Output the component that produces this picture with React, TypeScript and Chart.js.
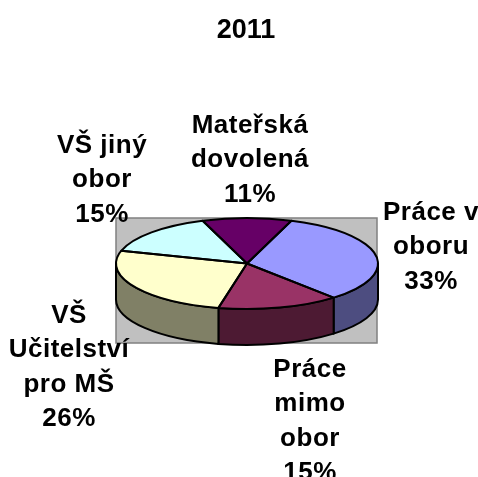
import React, { useEffect, useRef } from "react";
import { Chart, registerables } from "chart.js";

Chart.register(...registerables);

const chartTitle = "2011";
const categories = ["Mateřská dovolená", "Práce v oboru", "Práce mimo obor", "VŠ Učitelství pro MŠ", "VŠ jiný obor"];
const shares = [11, 33, 15, 26, 15];
const topColors = ["#660066", "#9999FF", "#993366", "#FFFFCC", "#CCFFFF"];
const sideColors = ["#330033", "#4D4D80", "#4D1A33", "#808066", "#668080"];
const labelLines = [
  ["Mateřská", "dovolená"],
  ["Práce v", "oboru"],
  ["Práce", "mimo", "obor"],
  ["VŠ", "Učitelství", "pro MŠ"],
  ["VŠ jiný", "obor"],
];
const labelAnchors = [
  { x: 250, y: 133 },
  { x: 431, y: 220 },
  { x: 310, y: 377 },
  { x: 69, y: 323 },
  { x: 102, y: 153 },
];

const TILT = 45.5 / 131;
const DEPTH = 36;
const LINE = 34.3;
const FONT = 'bold 26px "Liberation Sans", Arial, sans-serif';
const TITLE_FONT = 'bold 27px "Liberation Sans", Arial, sans-serif';

const pie3d = {
  id: "pie3d",
  beforeDatasetsDraw(chart: any) {
    const { ctx } = chart;
    const arcs = chart.getDatasetMeta(0).data;
    const { x: cx, y: cy, outerRadius: r } = arcs[0];
    const ry = r * TILT;
    // plot area
    ctx.save();
    ctx.fillStyle = "#C0C0C0";
    ctx.strokeStyle = "#808080";
    ctx.lineWidth = 1.5;
    ctx.beginPath();
    ctx.rect(cx - r, cy - ry, 2 * r - 1, 2 * ry + DEPTH - 2);
    ctx.fill();
    ctx.stroke();
    // extruded front walls
    ctx.lineWidth = 2;
    ctx.strokeStyle = "#000";
    ctx.lineJoin = "round";
    arcs.forEach((a: any, i: number) => {
      for (let k = -1; k <= 1; k++) {
        const s = Math.max(a.startAngle + k * 2 * Math.PI, 0);
        const e = Math.min(a.endAngle + k * 2 * Math.PI, Math.PI);
        if (e <= s) continue;
        ctx.beginPath();
        ctx.ellipse(cx, cy, r, ry, 0, s, e);
        ctx.lineTo(cx + r * Math.cos(e), cy + ry * Math.sin(e) + DEPTH);
        ctx.ellipse(cx, cy + DEPTH, r, ry, 0, e, s, true);
        ctx.closePath();
        ctx.fillStyle = sideColors[i];
        ctx.fill();
        ctx.stroke();
      }
    });
    ctx.restore();
  },
  beforeDatasetDraw(chart: any) {
    const { ctx } = chart;
    const { x: cx, y: cy } = chart.getDatasetMeta(0).data[0];
    ctx.save();
    ctx.translate(cx, cy);
    ctx.scale(1, TILT);
    ctx.translate(-cx, -cy);
  },
  afterDatasetDraw(chart: any) {
    chart.ctx.restore();
  },
  afterDatasetsDraw(chart: any) {
    const { ctx } = chart;
    const arcs = chart.getDatasetMeta(0).data;
    ctx.save();
    ctx.lineWidth = 2;
    ctx.strokeStyle = "#000";
    ctx.lineJoin = "round";
    arcs.forEach((a: any) => {
      const ry = a.outerRadius * TILT;
      ctx.beginPath();
      ctx.moveTo(a.x, a.y);
      ctx.ellipse(a.x, a.y, a.outerRadius, ry, 0, a.startAngle, a.endAngle);
      ctx.closePath();
      ctx.stroke();
    });
    ctx.restore();
  },
  afterDraw(chart: any) {
    const { ctx } = chart;
    ctx.save();
    ctx.fillStyle = "#000";
    ctx.textAlign = "center";
    ctx.textBaseline = "alphabetic";
    ctx.font = TITLE_FONT;
    ctx.fillText(chartTitle, 246, 38);
    ctx.font = FONT;
    ctx.letterSpacing = "0.5px";
    shares.forEach((v, i) => {
      const lines = [...labelLines[i], `${v}%`];
      lines.forEach((t, j) => {
        ctx.fillText(t, labelAnchors[i].x, labelAnchors[i].y + j * LINE);
      });
    });
    ctx.restore();
  },
};

export default function App() {
  const ref = useRef<HTMLCanvasElement>(null);
  useEffect(() => {
    const chart = new Chart(ref.current!, {
      type: "pie",
      data: {
        labels: categories,
        datasets: [{ data: shares, backgroundColor: topColors, borderWidth: 0 }],
      },
      options: {
        animation: false,
        responsive: false,
        rotation: -19.8,
        layout: { padding: { left: 116, right: 100, top: 132.5, bottom: 82.5 } },
        plugins: { legend: { display: false }, tooltip: { enabled: false }, title: { display: false } },
      },
      plugins: [pie3d],
    } as any);
    return () => chart.destroy();
  }, []);
  return (
    <canvas
      ref={ref}
      width={478}
      height={477}
      style={{ position: "absolute", left: 0, top: 0, display: "block", background: "#fff" }}
    />
  );
}
